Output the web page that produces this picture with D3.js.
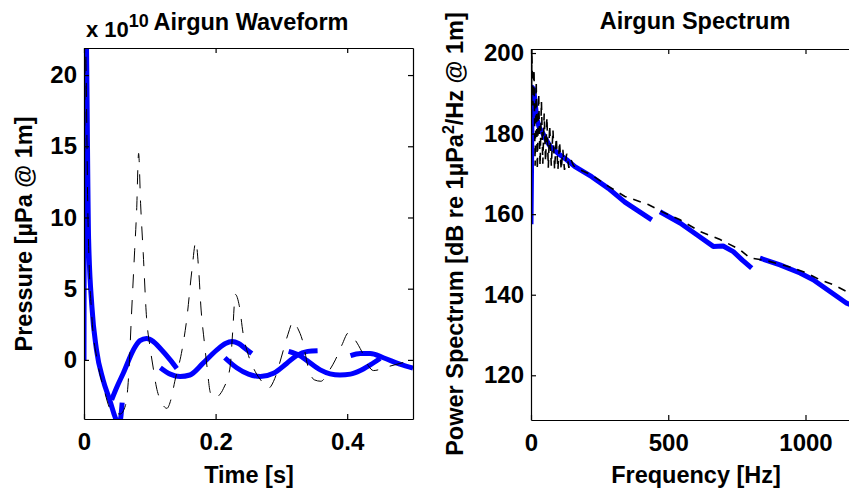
<!DOCTYPE html>
<html>
<head>
<meta charset="UTF-8">
<title>Airgun</title>
<script src="https://d3js.org/d3.v7.min.js"></script>
<style>
  body { margin: 0; background: #fff; }
  svg { display: block; }
  text { font-family: "Liberation Sans", Arial, sans-serif; font-weight: bold; fill: #000; }
  .tick text { font-size: 24px; }
  .tick line, .domain { stroke: #000; stroke-width: 1.2px; }
</style>
</head>
<body>
<div class="canvas"></div>
<script>
  // ---- waveform (time [s], pressure x1e10 uPa) ----
  const waveTicksX = [0, 0.2, 0.4]
  const waveTicksY = [0, 5, 10, 15, 20]

  // modelled waveform, drawn as the separate thick pieces seen in the figure
  const waveBlue1 = [[0, 0], [0.0006, 20], [0.0025, 25], [0.007, 8.5], [0.012, 3.75], [0.019, 0.7], [0.029, -1.4],
    [0.039, -2.8], [0.05, -4.3], [0.054, -4.5], [0.056, -4], [0.058, -3]]
  const waveBlue2 = [[0.042, -2.8], [0.05, -1.9], [0.06, -0.9], [0.075, 0.7], [0.085, 1.35], [0.095, 1.5],
    [0.105, 1.3], [0.116, 0.8], [0.131, 0], [0.141, -0.6]]
  const waveBlue3 = [[0.116, -0.55], [0.131, -1.0], [0.146, -1.17], [0.161, -1.06], [0.181, -0.23], [0.202, 0.7],
    [0.215, 1.15], [0.225, 1.29], [0.235, 1.15], [0.245, 0.8], [0.255, 0.45]]
  const waveBlue4 = [[0.214, 0.15], [0.232, -0.55], [0.25, -1.0], [0.268, -1.17], [0.288, -0.94], [0.308, -0.25],
    [0.323, 0.3], [0.34, 0.6], [0.355, 0.65]]
  const waveBlue5 = [[0.311, 0.6], [0.328, 0.3], [0.339, -0.05], [0.359, -0.7], [0.374, -0.98], [0.389, -1.06],
    [0.405, -1.0], [0.42, -0.75], [0.435, -0.35], [0.45, 0.1]]
  const waveBlue6 = [[0.405, 0.3], [0.42, 0.45], [0.435, 0.45], [0.455, 0.15], [0.48, -0.3], [0.5, -0.58]]

  // measured waveform (dashed black)
  const waveBlack = [[0, 0], [0.002, 22.5], [0.006, 10], [0.012, 3], [0.02, 0], [0.03, -2], [0.042, -3.6],
    [0.055, -3.8], [0.063, -3.2], [0.068, -1], [0.072, 3], [0.077, 7.7], [0.08, 10.5], [0.083, 14.5],
    [0.086, 11], [0.09, 7.5], [0.095, 3], [0.1, 1], [0.105, -0.5], [0.11, -1.9], [0.118, -3], [0.126, -3.4],
    [0.132, -2.8], [0.138, -1.5], [0.149, 0.7], [0.156, 2.8], [0.164, 6.3], [0.17, 8.3], [0.174, 6.5],
    [0.178, 3.5], [0.183, 1.2], [0.187, -0.5], [0.192, -2.3], [0.198, -2.7], [0.205, -2.5], [0.212, -2.0],
    [0.222, -0.5], [0.226, 2], [0.23, 4.6], [0.236, 3.8], [0.242, 1.8], [0.25, 0.3], [0.26, -0.8], [0.27, -1.5],
    [0.28, -2.0], [0.29, -1.3], [0.3, 0.2], [0.31, 1.8], [0.318, 2.7], [0.325, 2.2], [0.333, 1.2], [0.34, -0.4],
    [0.35, -1.4], [0.36, -1.5], [0.372, -0.8], [0.382, 0], [0.392, 1.05], [0.402, 1.9], [0.412, 1.4],
    [0.422, 0.6], [0.432, -0.4], [0.44, -0.75], [0.46, -0.5], [0.48, -0.25], [0.5, 0]]

  // ---- spectrum (frequency [Hz], dB re 1uPa^2/Hz @ 1m) ----
  const specTicksX = [0, 500, 1000]
  const specTicksY = [120, 140, 160, 180, 200]

  const specBlue1 = [[0, 157.5], [2, 172], [4, 191.5], [10, 191], [16, 187], [22, 183.5], [30, 181.5], [40, 180.5],
    [55, 178.5], [70, 176.8], [100, 175], [130, 173.5], [160, 171.8], [221, 169.3], [282, 166.4], [342, 163],
    [400, 160.4], [440, 158.6]]
  const specBlue2 = [[470, 160.6], [543, 157.8], [604, 154.9], [664, 152], [700, 152.1], [737, 150.7],
    [770, 148.6], [804, 146.6]]
  const specBlue3 = [[834, 149.1], [907, 147.4], [980, 145.4], [1028, 143.7], [1089, 140.8], [1150, 137.9],
    [1200, 136.5]]

  const specBlack = [[0, 158], [3, 201], [7, 187], [11, 196], [15, 172], [19, 193], [23, 171], [28, 190],
    [33, 172], [38, 188], [43, 172.5], [48, 185], [53, 173], [58, 184], [63, 171.5], [68, 182], [74, 172],
    [80, 181], [86, 171], [92, 179], [98, 171], [104, 178], [110, 171], [116, 176], [122, 171], [130, 175],
    [138, 171.5], [146, 173.5], [155, 172], [180, 171], [221, 169.7], [282, 166.9], [342, 164.4], [427, 162.4],
    [480, 160.5], [543, 158.6], [616, 155.7], [689, 153.7], [761, 151.2], [798, 149.1], [850, 148.6],
    [895, 147.8], [956, 146.6], [1004, 145.4], [1053, 143.7], [1101, 142.5], [1150, 140.8], [1200, 139.5]]

  const width = 849
  const height = 489

  const svg = d3.select('.canvas')
    .append('svg')
    .attr('width', width)
    .attr('height', height)

  svg.append('rect')
    .attr('width', width)
    .attr('height', height)
    .attr('fill', '#fff')

  const fmt = d => String(d)

  function panel(opts) {
    const x = d3.scaleLinear().domain(opts.xDomain).range(opts.xRange)
    const y = d3.scaleLinear().domain(opts.yDomain).range(opts.yRange)
    const [x0, x1] = opts.xRange
    const [y1, y0] = opts.yRange

    svg.append('clipPath').attr('id', opts.id)
      .append('rect')
      .attr('x', x0).attr('y', y0)
      .attr('width', x1 - x0).attr('height', y1 - y0)

    const plot = svg.append('g').attr('clip-path', `url(#${opts.id})`)

    const line = d3.line()
      .x(d => x(d[0]))
      .y(d => y(d[1]))
      .curve(opts.curve)

    opts.blue.forEach(seg => {
      plot.append('path')
        .attr('d', line(seg))
        .attr('fill', 'none')
        .attr('stroke', '#0000ff')
        .attr('stroke-width', 5)
        .attr('stroke-linejoin', 'round')
    })

    plot.append('path')
      .attr('d', d3.line().x(d => x(d[0])).y(d => y(d[1])).curve(opts.blackCurve)(opts.black))
      .attr('fill', 'none')
      .attr('stroke', '#000')
      .attr('stroke-width', opts.blackWidth)
      .attr('stroke-dasharray', opts.dash)

    // box + ticks on all sides (MATLAB style, ticks inside)
    svg.append('g')
      .attr('transform', `translate(0, ${y1})`)
      .call(d3.axisBottom(x).tickValues(opts.xTicks).tickFormat(fmt)
        .tickSizeInner(-5).tickSizeOuter(0).tickPadding(14))
    svg.append('g')
      .attr('transform', `translate(0, ${y0})`)
      .call(d3.axisTop(x).tickValues(opts.xTicks).tickSizeInner(-5).tickSizeOuter(0).tickFormat(''))
    svg.append('g')
      .attr('transform', `translate(${x0}, 0)`)
      .call(d3.axisLeft(y).tickValues(opts.yTicks).tickFormat(fmt)
        .tickSizeInner(-5).tickSizeOuter(0).tickPadding(7))
    svg.append('g')
      .attr('transform', `translate(${x1}, 0)`)
      .call(d3.axisRight(y).tickValues(opts.yTicks).tickSizeInner(-5).tickSizeOuter(0).tickFormat(''))

    svg.selectAll('.tick text').attr('font-family', null).attr('font-size', null)
    return { x, y }
  }

  panel({
    id: 'clipWave',
    xDomain: [0, 0.5], xRange: [84, 413],
    yDomain: [-4.15, 21.9], yRange: [419, 48],
    xTicks: waveTicksX, yTicks: waveTicksY,
    blue: [waveBlue1, waveBlue2, waveBlue3, waveBlue4, waveBlue5, waveBlue6],
    black: waveBlack,
    curve: d3.curveMonotoneX, blackCurve: d3.curveMonotoneX,
    blackWidth: 1, dash: '14,12'
  })

  panel({
    id: 'clipSpec',
    xDomain: [0, 1200], xRange: [531, 860.4],
    yDomain: [108.9, 201], yRange: [420, 49],
    xTicks: specTicksX, yTicks: specTicksY,
    blue: [specBlue1, specBlue2, specBlue3],
    black: specBlack,
    curve: d3.curveLinear, blackCurve: d3.curveLinear,
    blackWidth: 1.6, dash: '8,7'
  })

  // titles and labels
  svg.append('text').attr('x', 251).attr('y', 30).attr('text-anchor', 'middle')
    .style('font-size', '23.5px').text('Airgun Waveform')
  svg.append('text').attr('x', 695).attr('y', 29).attr('text-anchor', 'middle')
    .style('font-size', '23.5px').text('Airgun Spectrum')

  const expo = svg.append('text').attr('x', 86).attr('y', 37).style('font-size', '22px')
  expo.append('tspan').text('x 10')
  expo.append('tspan').attr('dy', -10).style('font-size', '18px').text('10')

  svg.append('text').attr('x', 249).attr('y', 483).attr('text-anchor', 'middle')
    .style('font-size', '23.5px').text('Time [s]')
  svg.append('text').attr('x', 696).attr('y', 483).attr('text-anchor', 'middle')
    .style('font-size', '23.5px').text('Frequency [Hz]')

  svg.append('text')
    .attr('transform', 'translate(32, 234) rotate(-90)')
    .attr('text-anchor', 'middle')
    .style('font-size', '23.5px')
    .text('Pressure [µPa @ 1m]')

  const yl = svg.append('text')
    .attr('transform', 'translate(463, 234) rotate(-90)')
    .attr('text-anchor', 'middle')
    .style('font-size', '23.5px')
  yl.append('tspan').text('Power Spectrum [dB re 1µPa')
  yl.append('tspan').attr('dy', -9).style('font-size', '16px').text('2')
  yl.append('tspan').attr('dy', 9).text('/Hz @ 1m]')
</script>
</body>
</html>
